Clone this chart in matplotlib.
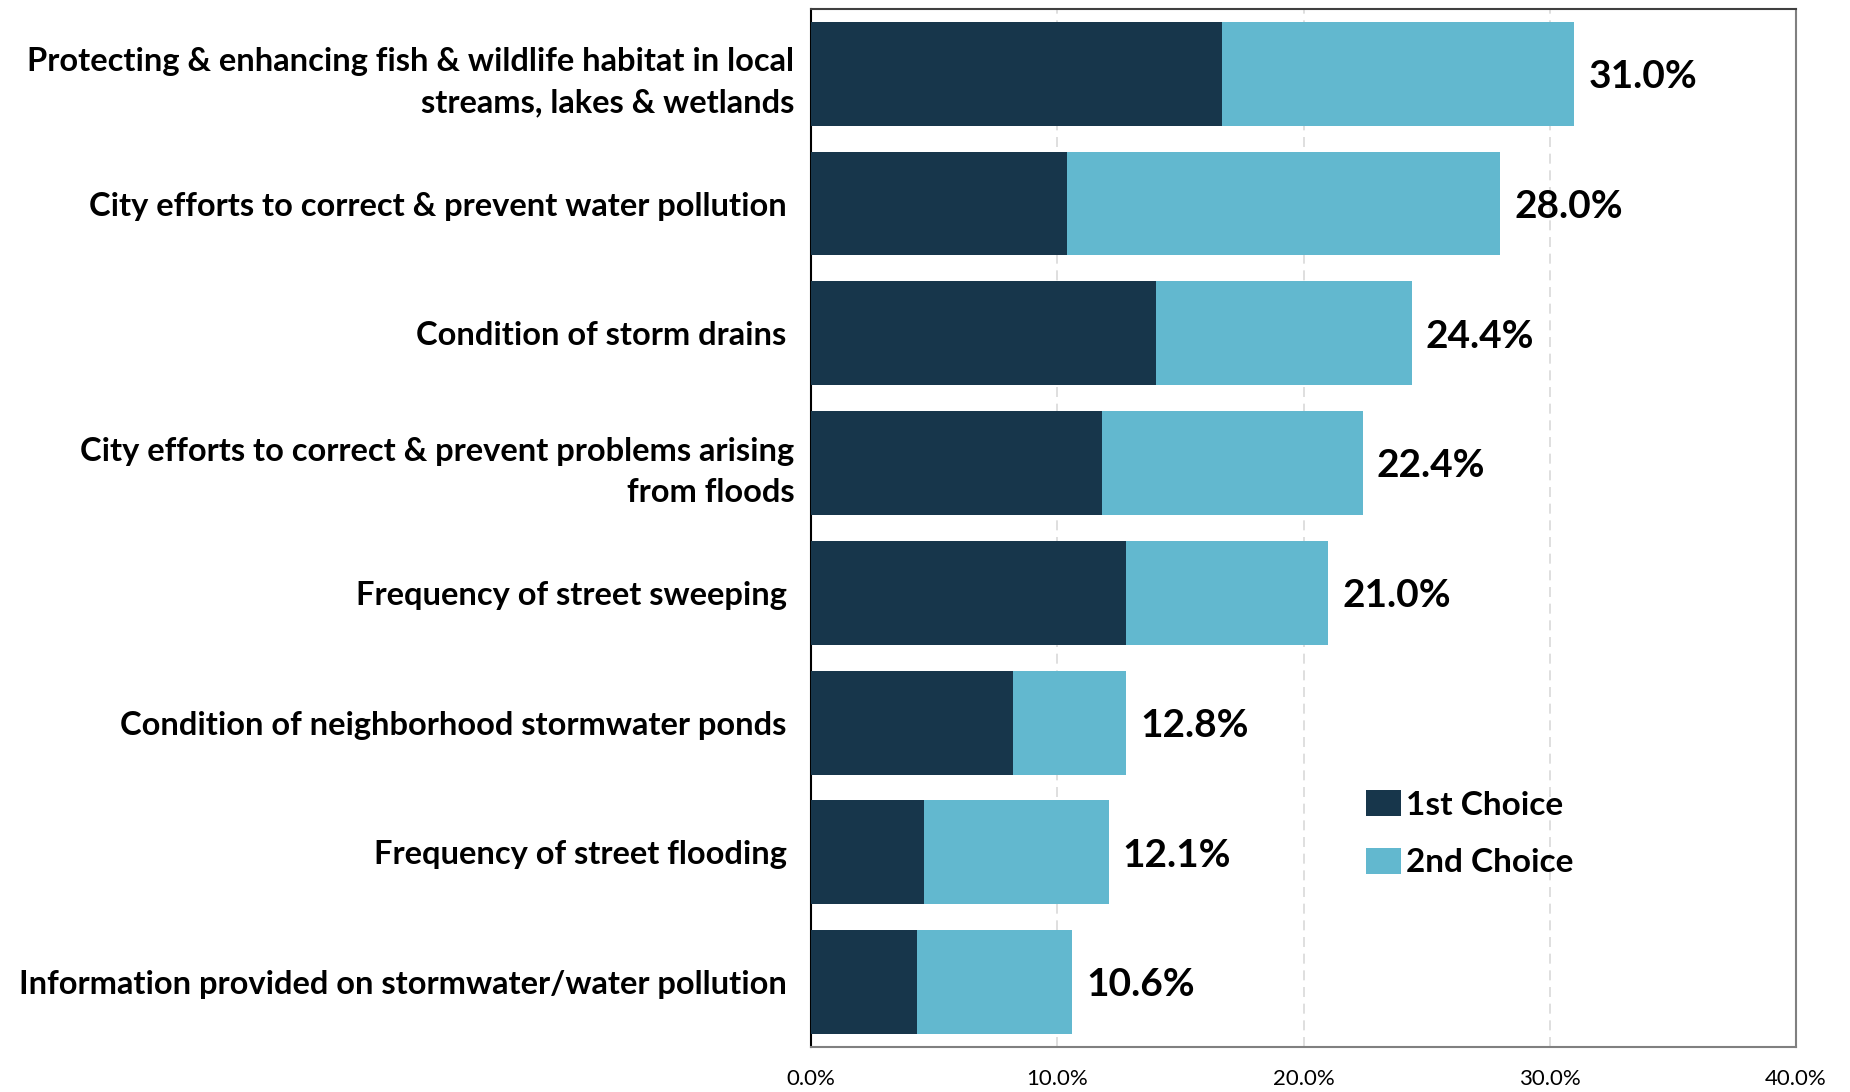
import numpy as np
import matplotlib.pyplot as plt
from matplotlib.patches import Patch

# Survey responses: share picking each item as 1st / 2nd choice (percent)
categories = [
    "Protecting & enhancing fish & wildlife habitat in local\nstreams, lakes & wetlands",
    "City efforts to correct & prevent water pollution ",
    "Condition of storm drains ",
    "City efforts to correct & prevent problems arising\nfrom floods",
    "Frequency of street sweeping ",
    "Condition of neighborhood stormwater ponds ",
    "Frequency of street flooding ",
    "Information provided on stormwater/water pollution ",
]
first_choice = [16.7, 10.4, 14.0, 11.8, 12.8, 8.2, 4.6, 4.3]
totals = [31.0, 28.0, 24.4, 22.4, 21.0, 12.8, 12.1, 10.6]
second_choice = [t - f for t, f in zip(totals, first_choice)]
xticks = [0, 10, 20, 30, 40]

DARK = "#17364b"
LIGHT = "#62b8cf"
FONT = "Lato"

plt.rcParams["font.family"] = [FONT, "DejaVu Sans"]

fig = plt.figure(figsize=(18.5, 10.92), dpi=100)
ax = fig.add_axes([0.4384, 0.0412, 0.9708 - 0.4384, 0.9918 - 0.0412])

y = np.arange(len(categories))
ax.barh(y, first_choice, height=0.8, color=DARK, label="1st Choice", zorder=3)
ax.barh(y, second_choice, left=first_choice, height=0.8, color=LIGHT,
        label="2nd Choice", zorder=3)

# total labels just past the end of each stacked bar
for yi, t in zip(y, totals):
    ax.annotate(f"{t:.1f}%", xy=(t, yi), xytext=(10, -2), textcoords="offset points",
                ha="left", va="center", fontsize=28, fontweight="bold")

ax.set_ylim(len(categories) - 0.5, -0.5)
ax.set_xlim(0, 40)
ax.set_xticks(xticks)
ax.set_xticklabels([f"{v:.1f}%" for v in xticks], fontsize=16)
ax.set_yticks(y)
ax.set_yticklabels(categories, fontsize=23.5, fontweight="bold",
                   multialignment="right", linespacing=1.5)
ax.tick_params(axis="both", length=0)
ax.tick_params(axis="y", pad=12)
ax.tick_params(axis="x", pad=16)

ax.grid(axis="x", color="#d9d9d9", linestyle=(0, (6, 4)), linewidth=1.2, zorder=0)
ax.set_axisbelow(True)
ax.spines["left"].set_color("black")
ax.spines["top"].set_color("#404040")
ax.spines["right"].set_color("#808080")
ax.spines["bottom"].set_color("#808080")
for s in ax.spines.values():
    s.set_linewidth(1.5)

handles = [Patch(facecolor=DARK, label="1st Choice"),
           Patch(facecolor=LIGHT, label="2nd Choice")]
ax.legend(handles=handles, loc="upper left", bbox_to_anchor=(0.55, 0.26),
          frameon=False, prop={"family": FONT, "weight": "bold", "size": 24},
          handlelength=1.06, handleheight=0.8, handletextpad=0.15, labelspacing=0.85,
          borderaxespad=0)

fig.savefig("out.png", dpi=100)
